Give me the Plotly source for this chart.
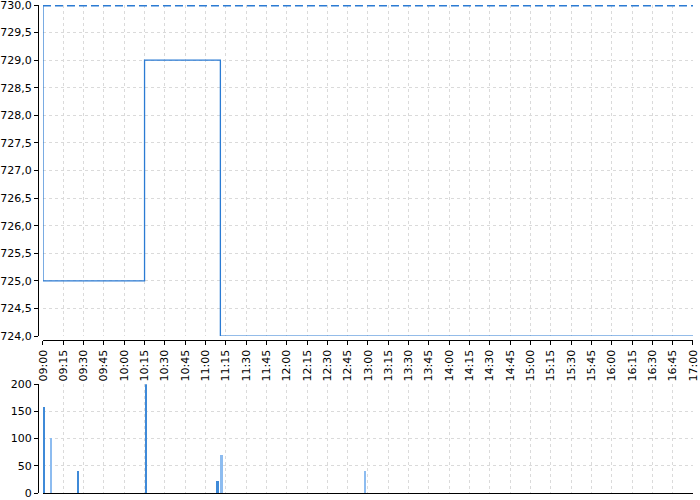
import plotly.graph_objects as go

DAY = "2024-01-02 "

# price step series (change points)
price_times = ["09:00", "09:00", "10:15", "11:11", "17:00"]
price_values = [730, 725, 729, 724, 724]

# reference level
ref_level = 730

# volume bars
vol_times = ["09:00", "09:05", "09:25", "10:15", "11:08", "11:11", "12:57"]
vol_values = [158, 100, 40, 200, 22, 70, 40]
vol_colors = ["#3f8ad8", "#8dbcf0", "#3f8ad8", "#3f8ad8", "#3f8ad8", "#8dbcf0", "#8dbcf0"]

x_start = DAY + "09:00"
x_end = DAY + "17:00"

fig = go.Figure()

fig.add_trace(go.Scatter(
    x=[DAY + t for t in price_times], y=price_values,
    mode="lines", line=dict(shape="hv", color="#2b7bd3", width=1.3),
    xaxis="x", yaxis="y", showlegend=False, hoverinfo="skip"))

fig.add_trace(go.Scatter(
    x=[x_start, x_end], y=[ref_level, ref_level],
    mode="lines", line=dict(color="#2b7bd3", width=3, dash="8px,4px"),
    xaxis="x", yaxis="y", showlegend=False, hoverinfo="skip"))

fig.add_trace(go.Bar(
    x=[DAY + t for t in vol_times], y=vol_values,
    marker=dict(color=vol_colors, line=dict(width=0)),
    width=80000, offset=20000,
    xaxis="x2", yaxis="y2", showlegend=False, hoverinfo="skip"))

grid = dict(showgrid=True, gridcolor="#dadada", griddash="3px,3px", gridwidth=1)
font = dict(family="DejaVu Sans", size=11, color="#000000")
common = dict(ticklabeloverflow="allow", automargin=False, zeroline=False,
              showline=True, linecolor="#000", linewidth=1)

X_DOMAIN = [0.0076, 1]

fig.update_layout(
    width=700, height=500,
    margin=dict(l=38, r=7, t=5, b=6),
    paper_bgcolor="white", plot_bgcolor="white",
    separators=", ",
    font=font,
    bargap=0,
    xaxis=dict(type="date", range=[x_start, x_end], domain=X_DOMAIN,
               anchor="free", position=0.314,
               tickformat="%H:%M", dtick=900000, tick0=x_start, tickangle=-90,
               ticks="outside", ticklen=4, tickcolor="#000", tickfont=font,
               **common, **grid),
    yaxis=dict(range=[724, 730], domain=[0.3230, 1.0], anchor="free", position=0,
               dtick=0.5, tickformat=".1f", ticks="outside", ticklen=4, tickcolor="#000",
               tickfont=font, **common, **grid),
    xaxis2=dict(type="date", range=[x_start, x_end], domain=X_DOMAIN, anchor="y2",
                dtick=900000, tick0=x_start, showticklabels=False, ticks="",
                **common, **grid),
    yaxis2=dict(range=[0, 200], domain=[0.002, 0.2245], anchor="free", position=0,
                dtick=50, ticks="outside", ticklen=4, tickcolor="#000",
                tickfont=font, **common, **grid),
)

fig.write_html(
    "out.html",
    config={"displayModeBar": False},
    post_script="document.body.style.margin='0';document.body.style.padding='0';"
                "document.documentElement.style.overflow='hidden';",
)
